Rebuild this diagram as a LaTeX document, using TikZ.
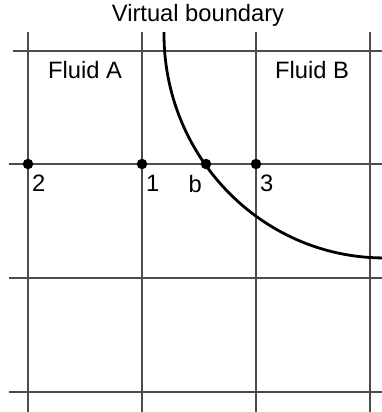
\documentclass[tikz,border=0pt]{standalone}
\usepackage{fontspec}
\setmainfont{Liberation Sans}
\usetikzlibrary{positioning}

\begin{document}
\begin{tikzpicture}[
    x=1bp, y=-1bp,
    gl/.style={draw=black!70, line width=1.4bp},
    bnd/.style={draw=black, line width=2.8bp},
    pt/.style={circle, fill=black, inner sep=0pt, minimum size=10.5bp},
    lab/.style={inner sep=0pt, font=\fontsize{23.8}{28}\selectfont},
]
\useasboundingbox (0,0) rectangle (382,412);

% Grid
\draw[gl] (28,32) -- (28,412);
\draw[gl] (142,32) -- (142,412);
\draw[gl] (256,32) -- (256,412);
\draw[gl] (370,32) -- (370,412);
\draw[gl] (13,51) -- (382,51);
\draw[gl] (9,164) -- (382,164);
\draw[gl] (9,278) -- (382,278);
\draw[gl] (9,392) -- (382,392);

% Virtual boundary
\draw[bnd] (164,32) arc[start angle=180.5, end angle=90.5, x radius=220, y radius=224];

% Points
\node[pt] (p2) at (28,164) {};
\node[pt] (p1) at (142,164) {};
\node[pt] (pb) at (206,164) {};
\node[pt] (p3) at (256,164) {};

% Labels
\node[lab, anchor=north west] at ([shift={(4,11)}]p2.center) {2};
\node[lab, anchor=north west] at ([shift={(4,11)}]p1.center) {1};
\node[lab, anchor=north east] at ([shift={(-4,11)}]pb.center) {b};
\node[lab, anchor=north west] at ([shift={(4,11)}]p3.center) {3};

\node[lab, anchor=north] (vb) at (198,4) {Virtual boundary};
\node[lab] (fa) at (85,70) {Fluid A};
\node[lab] (fb) at (312,70) {Fluid B};
\end{tikzpicture}
\end{document}
